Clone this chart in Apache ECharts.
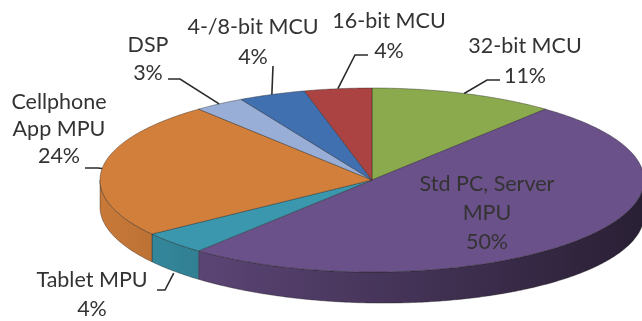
<!DOCTYPE html>
<html>
<head>
<meta charset="utf-8">
<script src="https://cdn.jsdelivr.net/npm/echarts@6/dist/echarts.min.js"></script>
<style>
  html, body { margin: 0; padding: 0; background: #ffffff; }
  #chart { width: 642px; height: 321px; }
</style>
</head>
<body>
<div id="chart"></div>
<script>
// Processor market share, slices run clockwise from 12 o'clock
const categories = ['32-bit MCU', 'Std PC, Server\nMPU', 'Tablet MPU', 'Cellphone\nApp MPU', 'DSP', '4-/8-bit MCU', '16-bit MCU'];
const shares = [11, 50, 4, 24, 3, 4, 4];

// Slice colours (top faces); side walls are shaded from these
const sliceColors = ['#8baa4e', '#6b518a', '#3a97ad', '#d27f3b', '#98aed6', '#4170b0', '#aa4341'];

// 3D pie geometry: top ellipse and wall depth
const pie = { cx: 372, cy: 180, rx: 272, ry: 92 };
const depthAt = t => 31 + 4 * Math.sin(t);

// Label placement: text centre x, top of text block, line height, leader line start
const labelLayout = [
  { x: 525, top: 31,  lh: 30, leader: [[500, 80], [487, 80]], end: 'top' },
  { x: 487, top: 170, lh: 29, leader: null },
  { x: 92,  top: 266, lh: 29, leader: [[157, 290], [165, 290]], end: 'side' },
  { x: 59,  top: 89,  lh: 27, leader: [[85, 168], [98, 168]], end: 'top' },
  { x: 148, top: 31,  lh: 28, leader: [[168, 79], [180, 79]], end: 'top' },
  { x: 253, top: 12,  lh: 30, leader: [[273, 66]], end: 'top' },
  { x: 389, top: 6,   lh: 30, leader: [[368, 55], [355, 55]], end: 'top' }
];

const total = shares.reduce((a, b) => a + b, 0);
const starts = [];
shares.reduce((acc, v) => { starts.push(acc); return acc + v; }, 0);

function rim(t) {
  return [pie.cx + pie.rx * Math.sin(t), pie.cy - pie.ry * Math.cos(t)];
}
function shade(hex, f) {
  const n = parseInt(hex.slice(1), 16);
  const r = Math.round(((n >> 16) & 255) * f);
  const g = Math.round(((n >> 8) & 255) * f);
  const b = Math.round((n & 255) * f);
  return 'rgb(' + r + ',' + g + ',' + b + ')';
}
function arcPoints(a0, a1, bottom) {
  const pts = [];
  const steps = Math.max(2, Math.ceil((a1 - a0) / (Math.PI / 360)));
  for (let k = 0; k <= steps; k++) {
    const t = a0 + (a1 - a0) * k / steps;
    const p = rim(t);
    if (bottom) p[1] += depthAt(t);
    pts.push(p);
  }
  return pts;
}

const edge = 'rgba(30,30,30,0.55)';

function renderSlice(params, api) {
  const i = params.dataIndex;
  const value = api.value(0);
  const a0 = starts[i] / total * Math.PI * 2;
  const a1 = (starts[i] + value) / total * Math.PI * 2;
  const color = sliceColors[i];
  const children = [];

  // front wall (only the part facing the viewer)
  const s = Math.max(a0, Math.PI / 2);
  const e = Math.min(a1, Math.PI * 3 / 2);
  if (s < e) {
    const top = arcPoints(s, e, false);
    const bot = arcPoints(s, e, true).reverse();
    children.push({
      type: 'polygon',
      z2: 1,
      shape: { points: top.concat(bot) },
      style: {
        fill: {
          type: 'linear', x: 100, y: 0, x2: 644, y2: 0, global: true,
          colorStops: [
            { offset: 0, color: shade(color, 0.95) },
            { offset: 1, color: shade(color, 0.38) }
          ]
        },
        stroke: edge, lineWidth: 0.7
      }
    });
  }

  // top face
  children.push({
    type: 'polygon',
    z2: 5,
    shape: { points: [[pie.cx, pie.cy]].concat(arcPoints(a0, a1, false)) },
    style: { fill: color, stroke: edge, lineWidth: 0.7 }
  });

  // label and leader line
  const lay = labelLayout[i];
  const mid = (a0 + a1) / 2;
  if (lay.leader) {
    const endPt = rim(mid);
    if (lay.end === 'side') endPt[1] += depthAt(mid) + 2;
    children.push({
      type: 'polyline',
      z2: 8,
      shape: { points: lay.leader.concat([endPt]) },
      style: { stroke: '#2b2b2b', lineWidth: 1.6, fill: null }
    });
  }
  children.push({
    type: 'text',
    z2: 10,
    style: {
      text: categories[i] + '\n' + value + '%',
      x: lay.x, y: lay.top,
      align: 'center', verticalAlign: 'top',
      fontFamily: 'Lato', fontSize: 21.5, lineHeight: lay.lh,
      fill: '#333333'
    }
  });

  return { type: 'group', children: children };
}

const chart = echarts.init(document.getElementById('chart'), null, { renderer: 'canvas' });
chart.setOption({
  animation: false,
  backgroundColor: '#ffffff',
  series: [{
    type: 'custom',
    coordinateSystem: 'none',
    silent: true,
    data: shares.map(v => [v]),
    renderItem: renderSlice
  }]
});
</script>
</body>
</html>
